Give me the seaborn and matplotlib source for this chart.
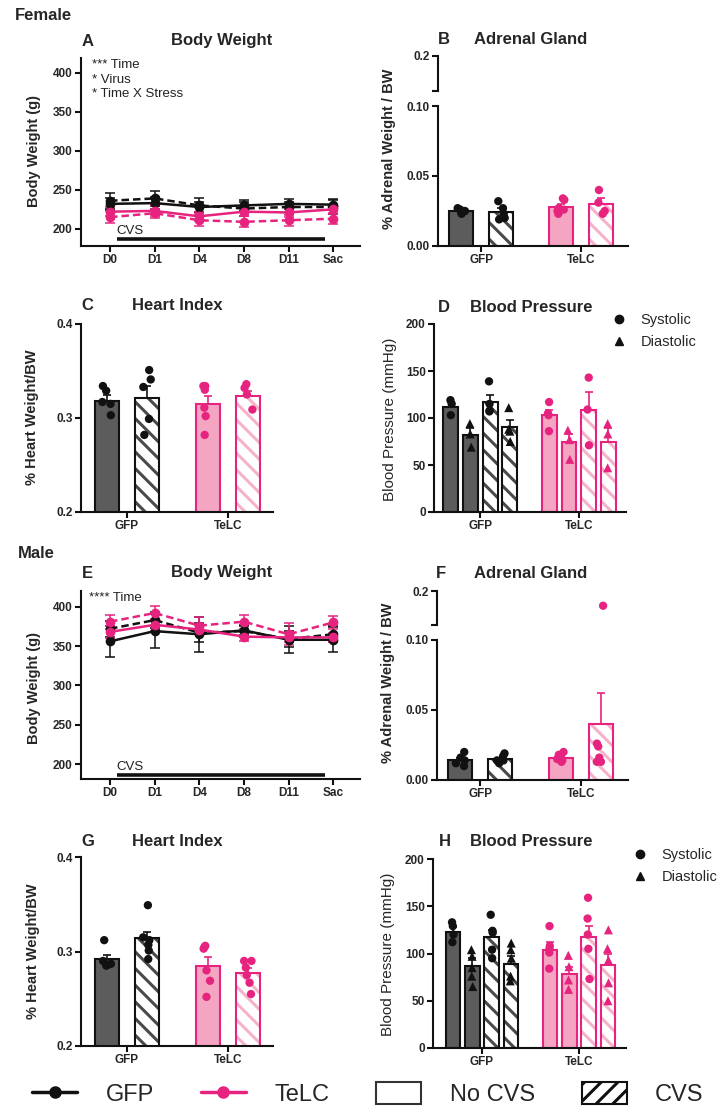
# body weight / adrenal / heart / blood pressure panels, female (A-D) and male (E-H)
import matplotlib
matplotlib.use('Agg')
import matplotlib.pyplot as plt
from matplotlib.lines import Line2D
from matplotlib.patches import Patch, Rectangle
import seaborn as sns
import pandas as pd

W, H = 722, 1117

BLACK = '#111111'
PINK = '#e6247f'
GFP_FILL = '#5c5c5c'
GFP_HATCH = '#4a4a4a'
TELC_FILL = '#f4a5c2'
TELC_HATCH = '#f5b3cb'

days = ['D0', 'D1', 'D4', 'D8', 'D11', 'Sac']
virus_order = ['GFP', 'TeLC']
stress_order = ['No CVS', 'CVS']
bp_order = ['No CVS Systolic', 'No CVS Diastolic', 'CVS Systolic', 'CVS Diastolic']

# female body weight (g), mean and sem per day
f_bw_gfp_nocvs = [232, 233, 228, 230, 232, 231]
f_bw_gfp_cvs = [236, 239, 230, 226, 228, 228]
f_bw_telc_nocvs = [222, 223, 216, 222, 221, 225]
f_bw_telc_cvs = [215, 220, 211, 209, 211, 213]
f_se_gfp_nocvs = [8, 8, 7, 7, 6, 7]
f_se_gfp_cvs = [10, 10, 9, 9, 7, 9]
f_se_telc_nocvs = [6, 7, 6, 6, 6, 6]
f_se_telc_cvs = [8, 6, 8, 7, 7, 7]

# male body weight (g)
m_bw_gfp_nocvs = [356, 369, 365, 370, 358, 358]
m_bw_gfp_cvs = [372, 383, 367, 369, 359, 365]
m_bw_telc_nocvs = [368, 377, 371, 362, 361, 361]
m_bw_telc_cvs = [381, 392, 376, 381, 365, 380]
m_se_gfp_nocvs = [20, 22, 22, 6, 17, 16]
m_se_gfp_cvs = [10, 10, 12, 8, 10, 10]
m_se_telc_nocvs = [8, 8, 6, 6, 6, 6]
m_se_telc_cvs = [9, 9, 11, 9, 14, 8]

# two-condition bar panels: GFP no CVS, GFP CVS, TeLC no CVS, TeLC CVS
bar_virus = ['GFP', 'GFP', 'TeLC', 'TeLC']
bar_stress = ['No CVS', 'CVS', 'No CVS', 'CVS']

f_adr_mean = [0.025, 0.024, 0.028, 0.030]
f_adr_sem = [0.001, 0.003, 0.002, 0.004]
f_adr_pts = [[0.027, 0.026, 0.025, 0.024, 0.023],
             [0.032, 0.027, 0.023, 0.019, 0.020],
             [0.034, 0.033, 0.027, 0.025, 0.023, 0.026],
             [0.040, 0.031, 0.025, 0.023]]

f_heart_mean = [0.318, 0.321, 0.315, 0.323]
f_heart_sem = [0.006, 0.013, 0.008, 0.006]
f_heart_pts = [[0.334, 0.329, 0.317, 0.315, 0.303],
               [0.351, 0.341, 0.333, 0.299, 0.282],
               [0.334, 0.330, 0.334, 0.311, 0.302, 0.282],
               [0.332, 0.336, 0.325, 0.309]]

m_adr_mean = [0.014, 0.015, 0.016, 0.040]
m_adr_sem = [0.002, 0.001, 0.001, 0.022]
m_adr_pts = [[0.016, 0.014, 0.012, 0.010, 0.020],
             [0.019, 0.017, 0.014, 0.014, 0.012],
             [0.020, 0.018, 0.017, 0.015, 0.013, 0.014],
             [0.026, 0.024, 0.016, 0.013, 0.014, 0.013, 0.174]]

m_heart_mean = [0.292, 0.314, 0.285, 0.277]
m_heart_sem = [0.004, 0.007, 0.009, 0.006]
m_heart_pts = [[0.312, 0.290, 0.286, 0.287, 0.285],
               [0.349, 0.315, 0.312, 0.307, 0.301, 0.292],
               [0.305, 0.303, 0.306, 0.280, 0.269, 0.252],
               [0.290, 0.290, 0.283, 0.275, 0.267, 0.255]]

# blood pressure (mmHg)
bp_virus = ['GFP'] * 4 + ['TeLC'] * 4
bp_cond = bp_order * 2

f_bp_mean = [112, 82, 117, 90, 103, 74, 108, 75]
f_bp_sem = [5, 7, 8, 8, 6, 9, 20, 14]
f_bp_pts = [[119, 115, 103], [94, 83, 69], [139, 115, 107, 108], [111, 88, 75, 86],
            [117, 105, 103, 86], [87, 77, 56], [143, 109, 71], [94, 83, 47]]

m_bp_mean = [123, 87, 117, 89, 104, 78, 117, 88]
m_bp_sem = [5, 8, 8, 8, 8, 8, 12, 11]
m_bp_pts = [[133, 129, 120, 112], [104, 85, 76, 65, 97], [141, 124, 122, 104, 95],
            [111, 104, 95, 76, 71], [129, 105, 101, 84, 108], [98, 86, 72, 62],
            [159, 137, 120, 105, 73], [125, 105, 93, 69, 50]]

sns.set_theme(style='ticks')
plt.rcParams['font.family'] = ['Liberation Sans', 'DejaVu Sans']
plt.rcParams['hatch.linewidth'] = 2.2

fig = plt.figure(figsize=(W / 100, H / 100), dpi=100)
fig.patch.set_facecolor('white')


def add_ax(x0, y0, x1, y1):
    return fig.add_axes([x0 / W, 1 - y1 / H, (x1 - x0) / W, (y1 - y0) / H])


def ftext(x, y, s, **kw):
    kw.setdefault('va', 'center')
    fig.text(x / W, 1 - y / H, s, **kw)


def style(ax, yticks, ylabels):
    sns.despine(ax=ax)
    for s in ['left', 'bottom']:
        ax.spines[s].set_linewidth(1.5)
        ax.spines[s].set_color(BLACK)
    ax.tick_params(axis='both', width=1.5, length=4, color=BLACK, pad=2)
    ax.set_yticks(yticks, ylabels, fontsize=8.5, fontweight='bold')
    ax.set_xlabel('')
    ax.set_ylabel('')


def line_panel(ax, series, sems, ylim):
    rows = []
    for (v, s), vals in series.items():
        for d, val, se in zip(days, vals, sems[(v, s)]):
            rows.append({'day': d, 'virus': v, 'stress': s, 'bw': val, 'se': se})
    df = pd.DataFrame(rows)
    pal = {'GFP': BLACK, 'TeLC': PINK}
    for (v, s), g in df.groupby(['virus', 'stress']):
        ax.errorbar(g['day'], g['bw'], yerr=g['se'], fmt='none', ecolor=pal[v],
                    elinewidth=1.1, capsize=3.5, capthick=1.1, zorder=1)
    sns.lineplot(data=df, x='day', y='bw', hue='virus', style='stress',
                 hue_order=virus_order, style_order=stress_order, palette=pal,
                 markers={'No CVS': 'o', 'CVS': 'o'},
                 dashes={'No CVS': '', 'CVS': (3, 1.6)},
                 markersize=7, markeredgewidth=0, linewidth=1.8,
                 errorbar=None, legend=False, ax=ax)
    style(ax, [200, 250, 300, 350, 400], ['200', '250', '300', '350', '400'])
    ax.set_xticks(range(len(days)), days, fontsize=8.5, fontweight='bold')
    ax.set_xlim(-0.65, 5.6)
    ax.set_ylim(*ylim)
    ax.plot([0.15, 4.82], [186.5, 186.5], color=BLACK, lw=2.6, solid_capstyle='butt')
    ax.text(0.15, 189, 'CVS', fontsize=9.5, va='bottom', ha='left', color='#222222')


def bar_colors(v):
    if v == 'GFP':
        return BLACK, GFP_FILL, GFP_HATCH
    return PINK, TELC_FILL, TELC_HATCH


def draw_bars(ax, virus, cond, means, sems, hue_order, gap):
    bars = pd.DataFrame({'virus': virus, 'cond': cond, 'mean': means, 'sem': sems})
    sns.barplot(data=bars, x='virus', y='mean', hue='cond', order=virus_order,
                hue_order=hue_order, width=0.8, gap=gap, errorbar=None,
                palette={h: 'white' for h in hue_order}, legend=False, ax=ax)
    lookup = bars.set_index(['virus', 'cond'])['sem']
    for level, cont in zip(hue_order, ax.containers):
        for p in cont.patches:
            cx = p.get_x() + p.get_width() / 2
            v = virus_order[int(round(cx))]
            edge, fill, hatch = bar_colors(v)
            if level.startswith('No'):
                p.set_facecolor(fill)
                p.set_edgecolor(edge)
                p.set_linewidth(1.5)
            else:
                p.set_facecolor('white')
                p.set_edgecolor(hatch)
                p.set_hatch('\\\\')
                p.set_linewidth(0)
                ax.add_patch(Rectangle(p.get_xy(), p.get_width(), p.get_height(),
                                       fill=False, edgecolor=edge, linewidth=1.5, zorder=1.5))
            ax.errorbar(cx, p.get_height(), yerr=[[0], [lookup[(v, level)]]], color=edge,
                        elinewidth=1.2, capsize=3, capthick=1.2, zorder=2)


def draw_points(ax, virus, cond, points, hue_order, jitter):
    rows = [(v, c, val) for v, c, pts in zip(virus, cond, points) for val in pts]
    pts = pd.DataFrame(rows, columns=['virus', 'cond', 'value'])
    for (v, c), sub in pts.groupby(['virus', 'cond']):
        color = BLACK if v == 'GFP' else PINK
        mk = '^' if c.endswith('Diastolic') else 'o'
        sns.stripplot(data=sub, x='virus', y='value', hue='cond', order=virus_order,
                      hue_order=hue_order, dodge=True, jitter=jitter,
                      palette={h: color for h in hue_order},
                      size=6 if mk == 'o' else 6.5, marker=mk, linewidth=0, legend=False,
                      ax=ax, zorder=3)


def bar_panel(ax, virus, cond, means, sems, points, hue_order, gap, xlim, jitter):
    draw_bars(ax, virus, cond, means, sems, hue_order, gap)
    draw_points(ax, virus, cond, points, hue_order, jitter)
    ax.set_xticks([0, 1], virus_order, fontsize=8.5, fontweight='bold')
    ax.set_xlim(*xlim)


def adrenal_panel(ax_lo, ax_hi, means, sems, points):
    bar_panel(ax_lo, bar_virus, bar_stress, means, sems, points, stress_order, 0.4,
              (-0.43, 1.47), 0.09)
    style(ax_lo, [0, 0.05, 0.10], ['0.00', '0.05', '0.10'])
    ax_lo.set_ylim(0, 0.10)
    draw_points(ax_hi, bar_virus, bar_stress, points, stress_order, 0.09)
    style(ax_hi, [0.14, 0.2], ['', '0.2'])
    ax_hi.spines['bottom'].set_visible(False)
    ax_hi.set_xticks([])
    ax_hi.set_xlim(-0.43, 1.47)
    ax_hi.set_ylim(0.14, 0.2)


def heart_panel(ax, means, sems, points):
    bar_panel(ax, bar_virus, bar_stress, means, sems, points, stress_order, 0.4,
              (-0.455, 1.445), 0.09)
    style(ax, [0.2, 0.3, 0.4], ['0.2', '0.3', '0.4'])
    ax.set_ylim(0.2, 0.4)


def bp_panel(ax, means, sems, points, xlim):
    bar_panel(ax, bp_virus, bp_cond, means, sems, points, bp_order, 0.25, xlim, 0.05)
    style(ax, [0, 50, 100, 150, 200], ['0', '50', '100', '150', '200'])
    ax.set_ylim(0, 200)


def bp_legend(x, y):
    handles = [Line2D([], [], color=BLACK, marker='o', ls='none', ms=6),
               Line2D([], [], color=BLACK, marker='^', ls='none', ms=6)]
    fig.legend(handles, ['Systolic', 'Diastolic'], loc='upper left',
               bbox_to_anchor=(x / W, 1 - y / H), frameon=False, fontsize=10.5,
               handlelength=0.8, handletextpad=1.1, labelspacing=0.55,
               borderpad=0, borderaxespad=0)


# ---- Female ----
ax_a = add_ax(81, 58, 360, 246)
line_panel(ax_a,
           {('GFP', 'No CVS'): f_bw_gfp_nocvs, ('GFP', 'CVS'): f_bw_gfp_cvs,
            ('TeLC', 'No CVS'): f_bw_telc_nocvs, ('TeLC', 'CVS'): f_bw_telc_cvs},
           {('GFP', 'No CVS'): f_se_gfp_nocvs, ('GFP', 'CVS'): f_se_gfp_cvs,
            ('TeLC', 'No CVS'): f_se_telc_nocvs, ('TeLC', 'CVS'): f_se_telc_cvs},
           (178, 419))
ax_a.text(0.04, 0.995, '*** Time\n* Virus\n* Time X Stress', transform=ax_a.transAxes,
          va='top', ha='left', fontsize=9.5, linespacing=1.3, color='#222222')

ax_b_hi = add_ax(438, 56, 628, 91)
ax_b = add_ax(438, 106, 628, 246)
adrenal_panel(ax_b, ax_b_hi, f_adr_mean, f_adr_sem, f_adr_pts)

ax_c = add_ax(81, 324, 273, 512)
heart_panel(ax_c, f_heart_mean, f_heart_sem, f_heart_pts)

ax_d = add_ax(434, 324, 626, 512)
bp_panel(ax_d, f_bp_mean, f_bp_sem, f_bp_pts, (-0.47, 1.48))
bp_legend(613, 313)

# ---- Male ----
ax_e = add_ax(81, 591, 360, 779)
line_panel(ax_e,
           {('GFP', 'No CVS'): m_bw_gfp_nocvs, ('GFP', 'CVS'): m_bw_gfp_cvs,
            ('TeLC', 'No CVS'): m_bw_telc_nocvs, ('TeLC', 'CVS'): m_bw_telc_cvs},
           {('GFP', 'No CVS'): m_se_gfp_nocvs, ('GFP', 'CVS'): m_se_gfp_cvs,
            ('TeLC', 'No CVS'): m_se_telc_nocvs, ('TeLC', 'CVS'): m_se_telc_cvs},
           (181, 420))
ax_e.text(0.03, 0.995, '**** Time', transform=ax_e.transAxes,
          va='top', ha='left', fontsize=9.5, color='#222222')

ax_f_hi = add_ax(437, 591, 628, 625)
ax_f = add_ax(437, 640, 628, 780)
adrenal_panel(ax_f, ax_f_hi, m_adr_mean, m_adr_sem, m_adr_pts)

ax_g = add_ax(81, 857, 273, 1046)
heart_panel(ax_g, m_heart_mean, m_heart_sem, m_heart_pts)

ax_h = add_ax(433, 859, 626, 1048)
bp_panel(ax_h, m_bp_mean, m_bp_sem, m_bp_pts, (-0.505, 1.485))
bp_legend(634, 848)

# ---- titles, letters and axis labels ----
ftext(15, 15, 'Female', fontsize=12, fontweight='bold')
ftext(18, 554, 'Male', fontsize=12, fontweight='bold')

panel_titles = [('A', 88, 41, 'Body Weight', 222), ('B', 444, 40, 'Adrenal Gland', 531),
                ('C', 87, 306, 'Heart Index', 177), ('D', 444, 308, 'Blood Pressure', 531),
                ('E', 87, 573, 'Body Weight', 222), ('F', 441, 573, 'Adrenal Gland', 531),
                ('G', 88, 841, 'Heart Index', 177), ('H', 445, 842, 'Blood Pressure', 531)]
for letter, lx, ty, title, tx in panel_titles:
    ftext(lx, ty, letter, fontsize=12, fontweight='bold', ha='center')
    ftext(tx, ty, title, fontsize=12, fontweight='bold', ha='center')

ylabels = [(34, 151, 'Body Weight (g)', 'bold'), (389, 149, '% Adrenal Weight / BW', 'bold'),
           (32, 417, '% Heart Weight/BW', 'bold'), (390, 419, 'Blood Pressure (mmHg)', 'normal'),
           (34, 688, 'Body Weight (g)', 'bold'), (388, 683, '% Adrenal Weight / BW', 'bold'),
           (33, 951, '% Heart Weight/BW', 'bold'), (388, 954, 'Blood Pressure (mmHg)', 'normal')]
for x, y, s, w in ylabels:
    ftext(x, y, s, fontsize=11 if w == 'normal' else 10.5, fontweight=w,
          rotation=90, ha='center')

# ---- bottom legend ----
handles = [Line2D([], [], color=BLACK, marker='o', lw=2.5, ms=8),
           Line2D([], [], color=PINK, marker='o', lw=2.5, ms=8),
           Patch(facecolor='white', edgecolor='#333333', linewidth=1.5),
           Patch(facecolor='white', edgecolor=BLACK, hatch='//', linewidth=1.5)]
fig.legend(handles, ['GFP', 'TeLC', 'No CVS', 'CVS'], loc='center',
           bbox_to_anchor=(368 / W, 1 - 1094 / H), ncol=4, frameon=False,
           fontsize=17, handlelength=1.9, handleheight=1.1, handletextpad=1.2,
           columnspacing=2.0)

fig.savefig('out.png', dpi=100, facecolor='white')
